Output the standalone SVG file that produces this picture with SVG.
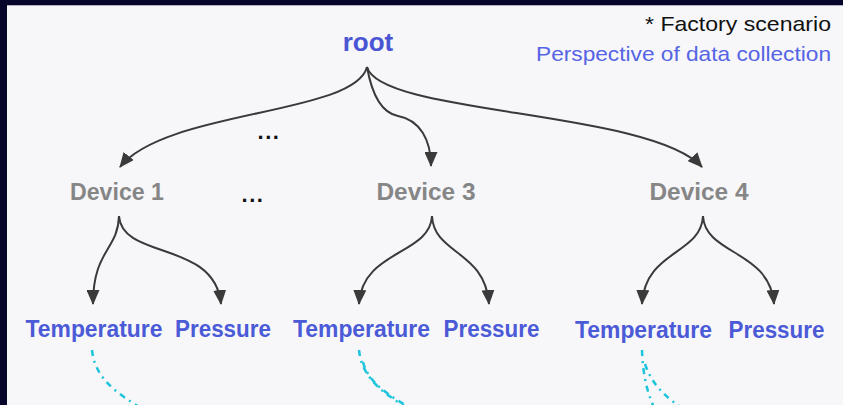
<svg xmlns="http://www.w3.org/2000/svg" width="843" height="405" viewBox="0 0 843 405">
<defs>
<marker id="ah" markerUnits="userSpaceOnUse" markerWidth="15" markerHeight="13" viewBox="0 0 15 13" refX="14" refY="6.5" orient="auto">
<path d="M0,0 L15,6.5 L0,13 z" fill="#3a3a3a"/>
</marker>
<style>
.bg{fill:#07062a}
.panel{fill:#f7f7fa}
.conn{fill:none;stroke:#3a3a3a;stroke-width:2;marker-end:url(#ah)}
.dd{fill:none;stroke:#1cc4dc;stroke-width:2.5;stroke-dasharray:6 5 2 5}
.root{font-family:"Liberation Sans",Arial,sans-serif;font-weight:bold;font-size:26px;fill:#4a55d4}
.dev{font-family:"Liberation Sans",Arial,sans-serif;font-weight:bold;font-size:24px;fill:#868686}
.leaf{font-family:"Liberation Sans",Arial,sans-serif;font-weight:bold;font-size:23px;fill:#4b5ad6}
.note{font-family:"Liberation Sans",Arial,sans-serif;font-size:21px}
.dots{font-family:"Liberation Sans",Arial,sans-serif;font-weight:bold;font-size:22px;fill:#111;letter-spacing:1.5px}
</style>
</defs>
<rect class="bg" x="0" y="0" width="843" height="405"/>
<rect class="panel" x="7" y="5" width="836" height="400"/>
<line x1="7" y1="5.5" x2="843" y2="5.5" stroke="#b0b0c0" stroke-width="1"/>

<g id="connectors">
<path class="conn" d="M367,67 C355,115 165,110 120,167"/>
<path class="conn" d="M367,67 C372,95 382,113 398,116 C420,120 431,140 431,166"/>
<path class="conn" d="M367,67 C380,115 650,110 702,167"/>
<path class="conn" d="M119,216 C118,250 93,250 93,304"/>
<path class="conn" d="M119,216 C122,260 215,240 221,304"/>
<path class="conn" d="M432,216 C430,255 362,250 359,304"/>
<path class="conn" d="M432,216 C434,255 485,250 489,304"/>
<path class="conn" d="M703,216 C701,255 645,250 642,304"/>
<path class="conn" d="M703,216 C705,255 770,250 774,304"/>
<path class="dd" d="M92,350 C95,378 115,393 148,412"/>
<path class="dd" d="M359,350 C362,378 382,393 414,412"/>
<path class="dd" d="M363,362 C368,382 388,396 418,412"/>
<path class="dd" d="M642,350 C643,378 648,395 656,412"/>
<path class="dd" d="M645,364 C652,385 666,398 688,412"/>
</g>

<g id="root"><text class="root" x="368" y="51" text-anchor="middle">root</text></g>
<g id="note">
<text class="note" x="831" y="31" text-anchor="end" fill="#111" textLength="186" lengthAdjust="spacingAndGlyphs">* Factory scenario</text>
<text class="note" x="831" y="61" text-anchor="end" fill="#5564e4" textLength="295" lengthAdjust="spacingAndGlyphs">Perspective of data collection</text>
</g>
<g id="ellipsis1"><text class="dots" x="269" y="139" text-anchor="middle">...</text></g>
<g id="ellipsis2"><text class="dots" x="253" y="202" text-anchor="middle">...</text></g>

<g id="device1"><text class="dev" x="117" y="200" text-anchor="middle" textLength="94" lengthAdjust="spacingAndGlyphs">Device 1</text></g>
<g id="device3"><text class="dev" x="426" y="200" text-anchor="middle" textLength="99" lengthAdjust="spacingAndGlyphs">Device 3</text></g>
<g id="device4"><text class="dev" x="699" y="200" text-anchor="middle" textLength="99" lengthAdjust="spacingAndGlyphs">Device 4</text></g>

<g id="temp1"><text class="leaf" x="94" y="337" text-anchor="middle" textLength="137" lengthAdjust="spacingAndGlyphs">Temperature</text></g>
<g id="pres1"><text class="leaf" x="223" y="337" text-anchor="middle" textLength="96" lengthAdjust="spacingAndGlyphs">Pressure</text></g>
<g id="temp2"><text class="leaf" x="361.5" y="337" text-anchor="middle" textLength="137" lengthAdjust="spacingAndGlyphs">Temperature</text></g>
<g id="pres2"><text class="leaf" x="491.5" y="337" text-anchor="middle" textLength="96" lengthAdjust="spacingAndGlyphs">Pressure</text></g>
<g id="temp3"><text class="leaf" x="643.5" y="338" text-anchor="middle" textLength="137" lengthAdjust="spacingAndGlyphs">Temperature</text></g>
<g id="pres3"><text class="leaf" x="776.5" y="338" text-anchor="middle" textLength="96" lengthAdjust="spacingAndGlyphs">Pressure</text></g>
</svg>
